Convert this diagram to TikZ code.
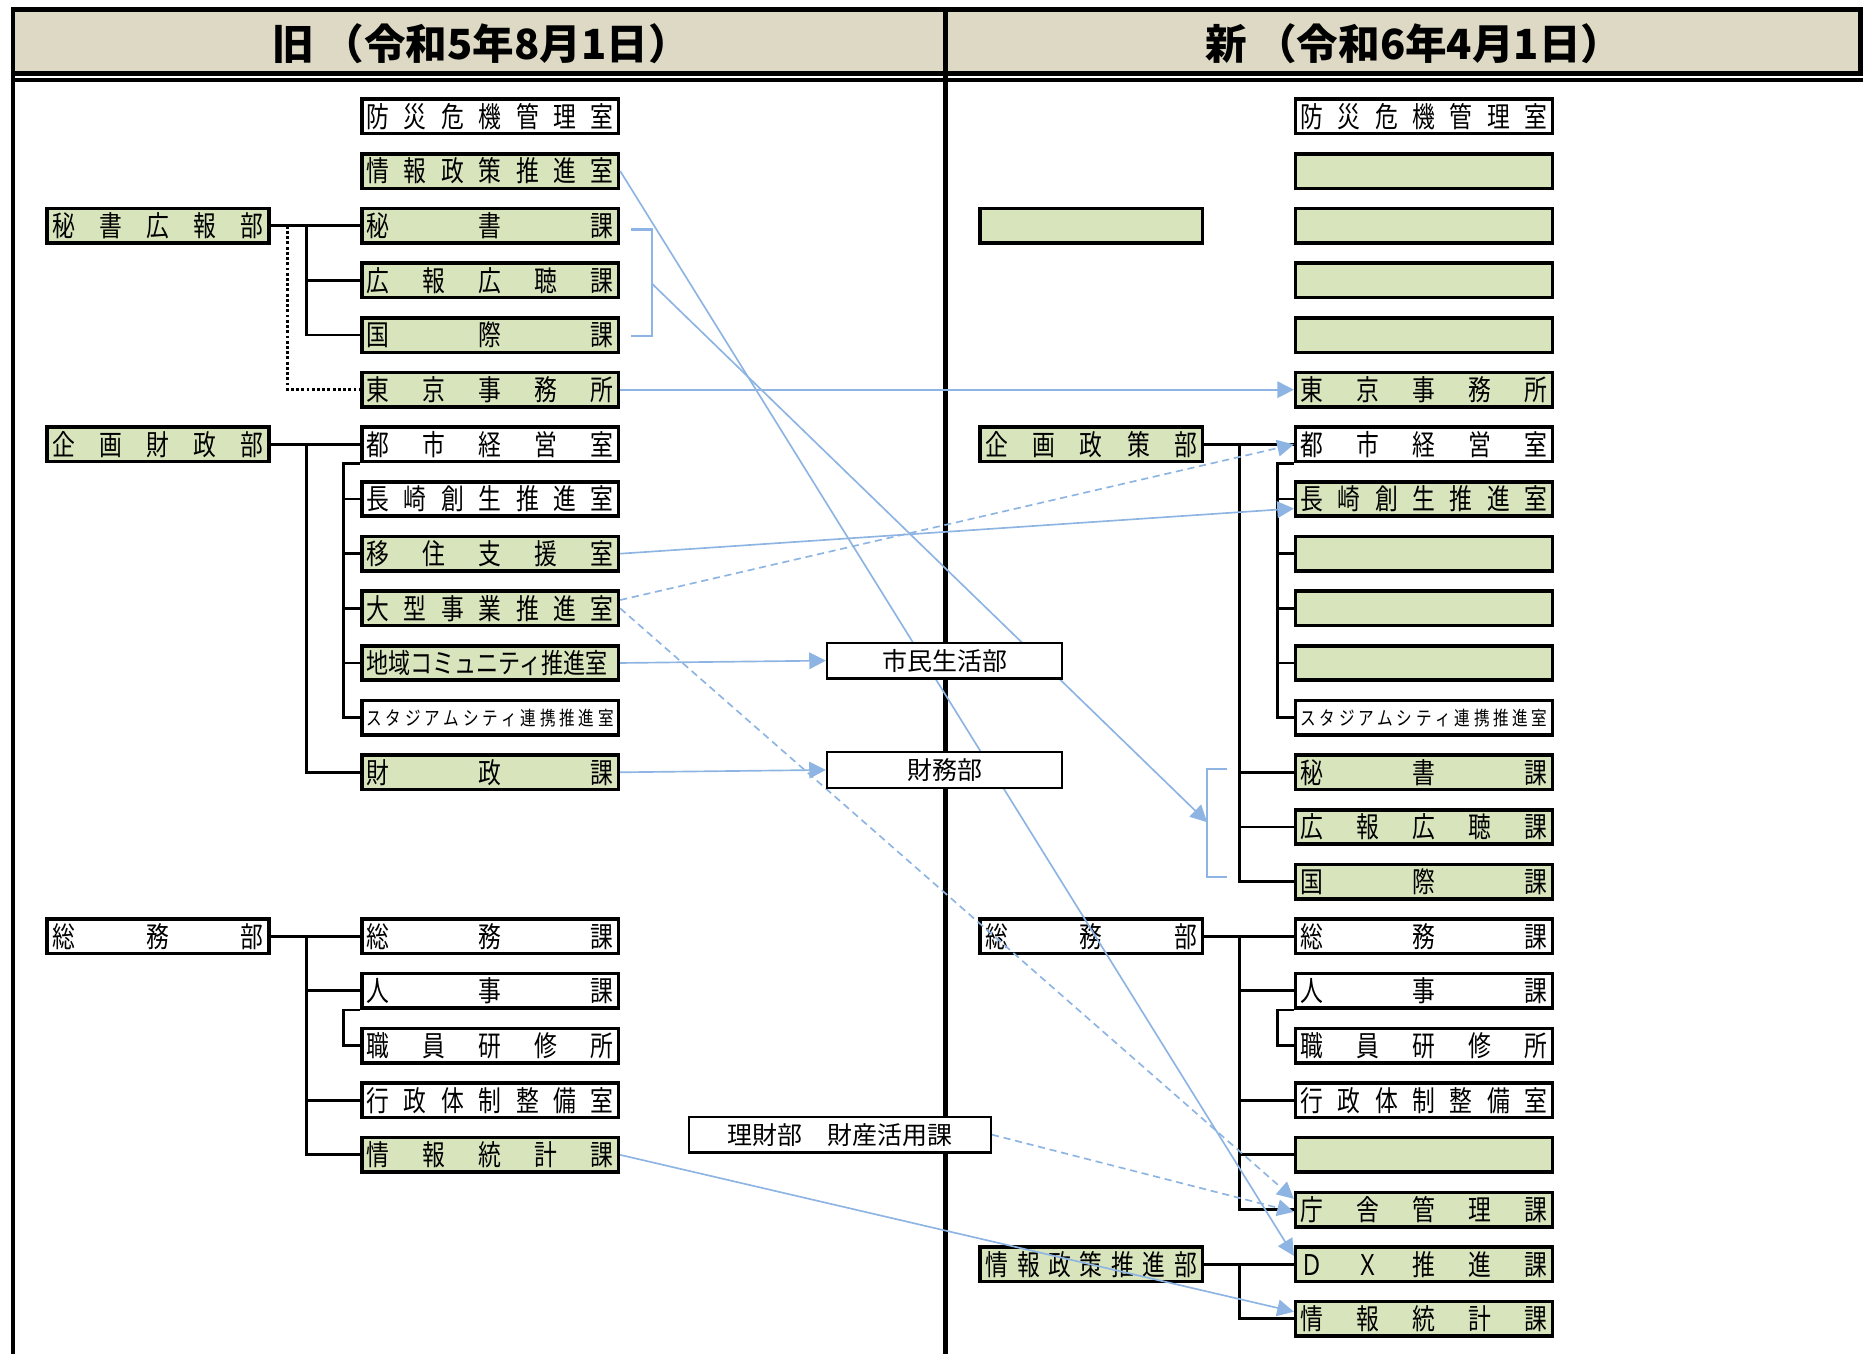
\documentclass[tikz,border=0pt]{standalone}
\usepackage{fontspec}
\setmainfont{Noto Sans CJK JP}
\newfontfamily\boxfont{Noto Sans CJK JP}[FakeStretch=0.8]
\usetikzlibrary{arrows.meta}
\definecolor{boxgreen}{HTML}{D8E4BC}
\definecolor{headtan}{HTML}{DDD9C4}
\definecolor{arrblue}{HTML}{8DB4E2}
\newcommand{\sectlbl}[1]{\makebox[104pt][s]{#1}}
\newcommand{\deptlbl}[1]{\makebox[89pt][s]{#1}}
\pgfdeclarelayer{front}
\pgfsetlayers{main,front}
\begin{document}
\begin{tikzpicture}[x=0.5pt,y=-0.5pt]
		\tikzstyle{every node}+=[inner sep=0pt]
		\tikzstyle{sect}=[draw, line width=1.5pt, minimum width=108pt, minimum height=14.5pt, font=\boxfont\fontsize{12}{12}\selectfont]
		\tikzstyle{dept}=[sect, minimum width=93.5pt]
		\tikzstyle{grn}=[fill=boxgreen]
		\tikzstyle{wht}=[fill=white]
		\tikzstyle{small}=[font=\boxfont\fontsize{8.2}{8}\selectfont]
		\tikzstyle{tight}=[font=\boxfont\fontsize{11.6}{11}\selectfont]
		\tikzstyle{mid}=[draw, line width=0.9pt, fill=white, minimum width=99pt, minimum height=15pt, font=\fontsize{10.5}{11}\selectfont]
		\tikzstyle{conn}=[line width=1.2pt]
		\tikzstyle{dotl}=[line width=1.2pt, densely dotted]
		\tikzstyle{brkline}=[draw=arrblue, line width=1pt]
		\tikzstyle{arr}=[draw=arrblue, line width=0.7pt, -{Triangle[length=7pt,width=7pt]}]
		\tikzstyle{arrd}=[arr, dash pattern=on 3pt off 2pt]
		\useasboundingbox (0,0) rectangle (1568,1140);
		% frame and headers
		\fill [headtan] (11,8) rectangle (1566,62);
		\draw [line width=2pt] (1568,8) -- (11,8) -- (11,1140);
		\draw [line width=2pt] (11,62) -- (1568,62);
		\draw [line width=1.6pt] (11,67) -- (1568,67);
		\draw [line width=2pt] (796,8) -- (796,1140);
		\draw [line width=2pt] (1566,8) -- (1566,62);
		\node (h-old) at (405,37) {\fontsize{17.5}{18}\selectfont\bfseries 旧\hspace{0.2em}（令和5年8月1日）};
		\node (h-new) at (1190,37) {\fontsize{17.5}{18}\selectfont\bfseries 新\hspace{0.2em}（令和6年4月1日）};
		% old
		\node [dept,grn] (o-hkb) at (133,190) {\deptlbl{秘 書 広 報 部}};
		\node [dept,grn] (o-kzb) at (133,374) {\deptlbl{企 画 財 政 部}};
		\node [dept,wht] (o-smb) at (133,788) {\deptlbl{総 務 部}};
		\node [sect,wht] (o-bosai) at (412.5,98) {\sectlbl{防 災 危 機 管 理 室}};
		\node [sect,grn] (o-jsei) at (412.5,144) {\sectlbl{情 報 政 策 推 進 室}};
		\node [sect,grn] (o-hisho) at (412.5,190) {\sectlbl{秘 書 課}};
		\node [sect,grn] (o-koho) at (412.5,236) {\sectlbl{広 報 広 聴 課}};
		\node [sect,grn] (o-kokusai) at (412.5,282) {\sectlbl{国 際 課}};
		\node [sect,grn] (o-tokyo) at (412.5,328) {\sectlbl{東 京 事 務 所}};
		\node [sect,wht] (o-toshi) at (412.5,374) {\sectlbl{都 市 経 営 室}};
		\node [sect,wht] (o-nagasaki) at (412.5,420) {\sectlbl{長 崎 創 生 推 進 室}};
		\node [sect,grn] (o-iju) at (412.5,466) {\sectlbl{移 住 支 援 室}};
		\node [sect,grn] (o-ogata) at (412.5,512) {\sectlbl{大 型 事 業 推 進 室}};
		\node [sect,grn,tight] (o-chiiki) at (412.5,558) {\sectlbl{地域コミュニティ推進室}};
		\node [sect,wht,small] (o-stadium) at (412.5,604) {\sectlbl{ス タ ジ ア ム シ テ ィ 連 携 推 進 室}};
		\node [sect,grn] (o-zaisei) at (412.5,650) {\sectlbl{財 政 課}};
		\node [sect,wht] (o-somu) at (412.5,788) {\sectlbl{総 務 課}};
		\node [sect,wht] (o-jinji) at (412.5,834) {\sectlbl{人 事 課}};
		\node [sect,wht] (o-kenshu) at (412.5,880) {\sectlbl{職 員 研 修 所}};
		\node [sect,wht] (o-gyosei) at (412.5,926) {\sectlbl{行 政 体 制 整 備 室}};
		\node [sect,grn] (o-jtokei) at (412.5,972) {\sectlbl{情 報 統 計 課}};
		% new
		\node [dept,grn] (n-blank) at (918.5,190) {};
		\node [dept,grn] (n-kseb) at (918.5,374) {\deptlbl{企 画 政 策 部}};
		\node [dept,wht] (n-smb) at (918.5,788) {\deptlbl{総 務 部}};
		\node [dept,grn] (n-jsb) at (918.5,1064) {\deptlbl{情 報 政 策 推 進 部}};
		\node [sect,wht] (n-bosai) at (1198.5,98) {\sectlbl{防 災 危 機 管 理 室}};
		\node [sect,grn] (n-e1) at (1198.5,144) {};
		\node [sect,grn] (n-e2) at (1198.5,190) {};
		\node [sect,grn] (n-e3) at (1198.5,236) {};
		\node [sect,grn] (n-e4) at (1198.5,282) {};
		\node [sect,grn] (n-tokyo) at (1198.5,328) {\sectlbl{東 京 事 務 所}};
		\node [sect,wht] (n-toshi) at (1198.5,374) {\sectlbl{都 市 経 営 室}};
		\node [sect,grn] (n-nagasaki) at (1198.5,420) {\sectlbl{長 崎 創 生 推 進 室}};
		\node [sect,grn] (n-e8) at (1198.5,466) {};
		\node [sect,grn] (n-e9) at (1198.5,512) {};
		\node [sect,grn] (n-e10) at (1198.5,558) {};
		\node [sect,wht,small] (n-stadium) at (1198.5,604) {\sectlbl{ス タ ジ ア ム シ テ ィ 連 携 推 進 室}};
		\node [sect,grn] (n-hisho) at (1198.5,650) {\sectlbl{秘 書 課}};
		\node [sect,grn] (n-koho) at (1198.5,696) {\sectlbl{広 報 広 聴 課}};
		\node [sect,grn] (n-kokusai) at (1198.5,742) {\sectlbl{国 際 課}};
		\node [sect,wht] (n-somu) at (1198.5,788) {\sectlbl{総 務 課}};
		\node [sect,wht] (n-jinji) at (1198.5,834) {\sectlbl{人 事 課}};
		\node [sect,wht] (n-kenshu) at (1198.5,880) {\sectlbl{職 員 研 修 所}};
		\node [sect,wht] (n-gyosei) at (1198.5,926) {\sectlbl{行 政 体 制 整 備 室}};
		\node [sect,grn] (n-e19) at (1198.5,972) {};
		\node [sect,grn] (n-chosha) at (1198.5,1018) {\sectlbl{庁 舎 管 理 課}};
		\node [sect,grn] (n-dx) at (1198.5,1064) {\sectlbl{Ｄ Ｘ 推 進 課}};
		\node [sect,grn] (n-jtokei) at (1198.5,1110) {\sectlbl{情 報 統 計 課}};
		% middle boxes, above the lines
		\begin{pgfonlayer}{front}
		\node [mid] (m-shimin) at (795,556) {市民生活部};
		\node [mid] (m-zaimu) at (795,648) {財務部};
		\node [mid, minimum width=127pt] (m-rizai) at (707,955) {理財部　財産活用課};
		\end{pgfonlayer}
		% old tree
		\draw [conn] (o-hkb.east) -- (o-hisho.west)
			(o-hkb.east) ++(30,0) |- (o-koho.west)
			(o-hkb.east) ++(30,0) |- (o-kokusai.west);
		\draw [dotl] (o-hkb.east) ++(14,0) |- (o-tokyo.west);
		\draw [conn] (o-kzb.east) -- (o-toshi.west)
			(o-kzb.east) ++(30,0) |- (o-zaisei.west);
		\draw [conn] (o-toshi.south west) -- ++(-14,0) |- (o-stadium.west)
			(o-toshi.south west) ++(-14,0) |- (o-nagasaki.west)
			(o-toshi.south west) ++(-14,0) |- (o-iju.west)
			(o-toshi.south west) ++(-14,0) |- (o-ogata.west)
			(o-toshi.south west) ++(-14,0) |- (o-chiiki.west);
		\draw [conn] (o-smb.east) -- (o-somu.west)
			(o-smb.east) ++(30,0) |- (o-jinji.west)
			(o-smb.east) ++(30,0) |- (o-gyosei.west)
			(o-smb.east) ++(30,0) |- (o-jtokei.west);
		\draw [conn] (o-jinji.south west) -- ++(-14,0) |- (o-kenshu.west);
		% new tree
		\draw [conn] (n-kseb.east) -- (n-toshi.west)
			(n-kseb.east) ++(30,0) |- (n-hisho.west)
			(n-kseb.east) ++(30,0) |- (n-koho.west)
			(n-kseb.east) ++(30,0) |- (n-kokusai.west);
		\draw [conn] (n-toshi.south west) -- ++(-14,0) |- (n-stadium.west)
			(n-toshi.south west) ++(-14,0) |- (n-nagasaki.west)
			(n-toshi.south west) ++(-14,0) |- (n-e8.west)
			(n-toshi.south west) ++(-14,0) |- (n-e9.west)
			(n-toshi.south west) ++(-14,0) |- (n-e10.west);
		\draw [conn] (n-smb.east) -- (n-somu.west)
			(n-smb.east) ++(30,0) |- (n-jinji.west)
			(n-smb.east) ++(30,0) |- (n-gyosei.west)
			(n-smb.east) ++(30,0) |- (n-e19.west)
			(n-smb.east) ++(30,0) |- (n-chosha.west);
		\draw [conn] (n-jinji.south west) -- ++(-14,0) |- (n-kenshu.west);
		\draw [conn] (n-jsb.east) -- (n-dx.west)
			(n-jsb.east) ++(30,0) |- (n-jtokei.west);
		% brackets
		\draw [brkline] (531,193) -- (549,193) -- (549,283) -- (531,283);
		\coordinate (brk-old) at (549,239);
		\draw [brkline] (1033,647) -- (1016,647) -- (1016,738) -- (1033,738);
		\coordinate (brk-new) at (1016,692);
		% moves
		\draw [arr] (o-jsei.east) -- ([yshift=3.5pt]n-dx.west);
		\draw [arr] (brk-old) -- (brk-new);
		\draw [arr] (o-tokyo.east) -- (n-tokyo.west);
		\draw [arr] (o-iju.east) -- ([yshift=-4pt]n-nagasaki.west);
		\draw [arrd] ([yshift=3.5pt]o-ogata.east) -- (n-toshi.west);
		\draw [arrd] (o-ogata.east) -- ([yshift=4.5pt]n-chosha.west);
		\draw [arr] (o-chiiki.east) -- (m-shimin.west);
		\draw [arr] (o-zaisei.east) -- (m-zaimu.west);
		\draw [arrd] (m-rizai.east) -- ([yshift=-1pt]n-chosha.west);
		\draw [arr] (o-jtokei.east) -- ([yshift=3pt]n-jtokei.west);
\end{tikzpicture}
\end{document}
